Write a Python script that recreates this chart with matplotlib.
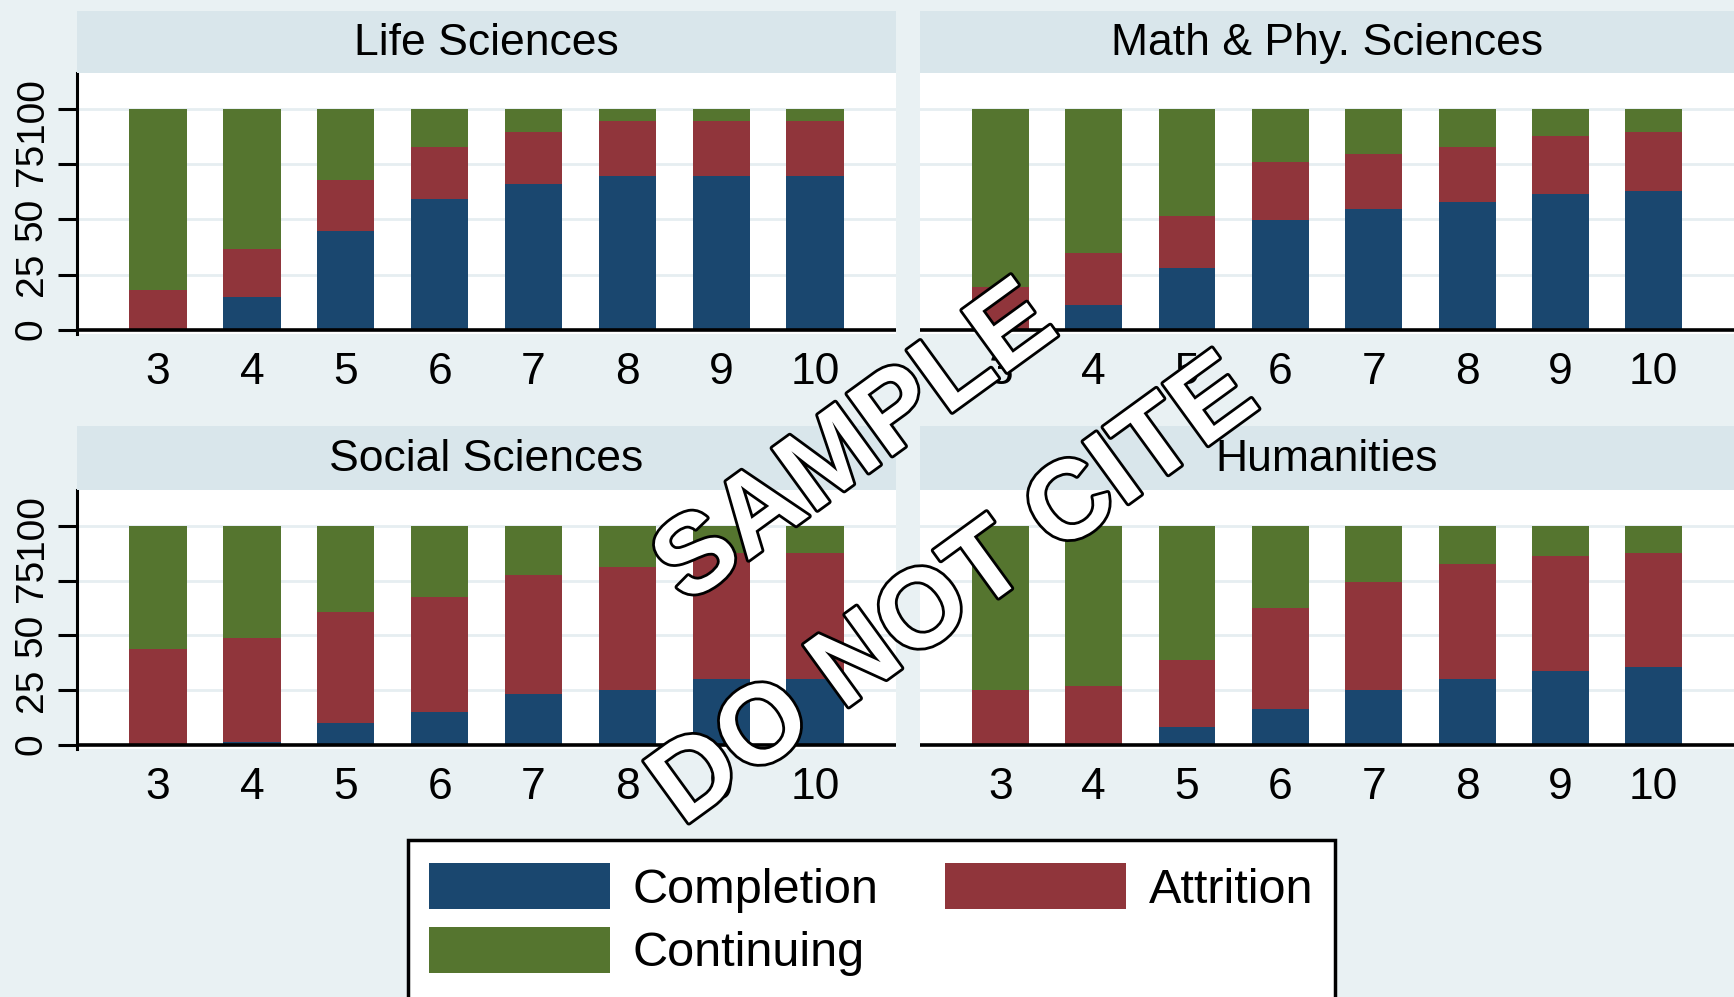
import matplotlib
matplotlib.use("Agg")
import matplotlib.pyplot as plt
import matplotlib.patheffects as pe
from matplotlib.patches import Rectangle

# years in program
years = ['3', '4', '5', '6', '7', '8', '9', '10']

# percent of cohort
life_comp = [0, 14.7, 44.7, 59.5, 66.3, 69.6, 69.6, 69.6]
life_attr = [18.0, 21.7, 23.3, 23.5, 23.5, 25.1, 25.1, 25.1]
life_cont = [82.0, 63.6, 32.0, 17.0, 10.2, 5.3, 5.3, 5.3]

math_comp = [0, 11.3, 28.1, 49.6, 54.6, 58.0, 61.4, 63.0]
math_attr = [19.5, 23.3, 23.3, 26.6, 25.1, 25.0, 26.6, 26.8]
math_cont = [80.5, 65.4, 48.6, 23.8, 20.3, 17.0, 12.0, 10.2]

soc_comp = [0, 1.1, 9.8, 14.9, 23.4, 25.0, 30.0, 30.0]
soc_attr = [43.8, 47.9, 51.0, 52.6, 54.4, 56.2, 57.9, 57.9]
soc_cont = [56.2, 51.0, 39.2, 32.5, 22.2, 18.8, 12.1, 12.1]

hum_comp = [0, 0, 8.1, 16.5, 25.1, 30.2, 33.7, 35.4]
hum_attr = [25.1, 26.8, 30.6, 46.0, 49.2, 52.6, 52.4, 52.5]
hum_cont = [74.9, 73.2, 61.3, 37.5, 25.7, 17.2, 13.9, 12.1]

titles = ['Life Sciences', 'Math & Phy. Sciences', 'Social Sciences', 'Humanities']
series_names = ['Completion', 'Attrition', 'Continuing']

BG = '#e9f1f3'
STRIP = '#d9e6eb'
GRID = '#e6eef1'
COLORS = ['#1a476f', '#90353b', '#55752f']
FONT = 'Liberation Sans'

panels = [
    (titles[0], life_comp, life_attr, life_cont),
    (titles[1], math_comp, math_attr, math_cont),
    (titles[2], soc_comp, soc_attr, soc_cont),
    (titles[3], hum_comp, hum_attr, hum_cont),
]

# [left, bottom, width, height] of each plot region and its title strip
boxes = [
    (0.0446, 0.665, 0.472, 0.2618),
    (0.5306, 0.665, 0.4694, 0.2618),
    (0.0446, 0.2487, 0.472, 0.2598),
    (0.5306, 0.2487, 0.4694, 0.2598),
]
strip_h = [0.0622, 0.0622, 0.0642, 0.0642]

fig = plt.figure(figsize=(17.34, 9.97), dpi=100, facecolor=BG)

handles = []
for i, (title, comp, attr, cont) in enumerate(panels):
    l, b, w, h = boxes[i]
    ax = fig.add_axes([l, b, w, h])
    ax.set_facecolor('white')
    x = range(len(years))

    # stacked bars
    b1 = ax.bar(x, comp, 0.61, color=COLORS[0], zorder=2)
    bot = [c for c in comp]
    b2 = ax.bar(x, attr, 0.61, bottom=bot, color=COLORS[1], zorder=2)
    bot = [c + a for c, a in zip(comp, attr)]
    b3 = ax.bar(x, cont, 0.61, bottom=bot, color=COLORS[2], zorder=2)
    if i == 0:
        handles = [b1, b2, b3]

    ax.set_xlim(-0.86, 7.86)
    ax.set_ylim(-2, 116.5)
    for g in [25, 50, 75, 100]:
        ax.axhline(g, color=GRID, lw=2, zorder=1)
    ax.axhline(0, color='black', lw=2.6, zorder=3)

    ax.set_xticks(list(x))
    ax.set_xticklabels(years, family=FONT, fontsize=32)
    ax.tick_params(axis='x', length=0, pad=13)

    for s in ['top', 'right', 'bottom']:
        ax.spines[s].set_visible(False)
    if i % 2 == 0:
        ax.spines['left'].set_linewidth(2.2)
        ax.set_yticks([0, 25, 50, 75, 100])
        ax.set_yticklabels(['0', '25', '50', '75', '100'], rotation=90,
                           va='center', family=FONT, fontsize=28)
        ax.tick_params(axis='y', length=14, width=2.2, pad=6)
    else:
        ax.spines['left'].set_visible(False)
        ax.set_yticks([])

    # title strip above plot
    sax = fig.add_axes([l, b + h, w, strip_h[i]])
    sax.set_facecolor(STRIP)
    sax.set_xticks([])
    sax.set_yticks([])
    for s in sax.spines.values():
        s.set_visible(False)
    sax.text(0.5, 0.47, title, ha='center', va='center', family=FONT,
             fontsize=32, transform=sax.transAxes)

# legend box, cut off by the bottom edge
fig.patches.append(Rectangle((0.2353, -0.05), 0.5345, 0.207, transform=fig.transFigure,
                             facecolor='white', edgecolor='black', lw=2.5, zorder=0))
order = [handles[0], handles[2], handles[1]]
labels = [series_names[0], series_names[2], series_names[1]]
fig.legend(order, labels, loc='upper left', bbox_to_anchor=(0.2475, 0.134), ncol=2,
           frameon=False, borderpad=0, prop={'family': FONT, 'size': 35},
           handlelength=3.72, handleheight=1.07, handletextpad=0.47,
           columnspacing=1.36, labelspacing=0.29, borderaxespad=0)

# watermark
wm = [pe.withStroke(linewidth=4, foreground='black')]
fig.text(0.494, 0.553, 'SAMPLE', rotation=36, ha='center', va='center', color='white',
         fontsize=80, fontweight='bold', family=FONT, path_effects=wm,
         rotation_mode='anchor')
fig.text(0.551, 0.405, 'DO NOT CITE', rotation=36, ha='center', va='center', color='white',
         fontsize=80, fontweight='bold', family=FONT, path_effects=wm,
         rotation_mode='anchor')

fig.savefig('out.png', dpi=100, facecolor=BG)
